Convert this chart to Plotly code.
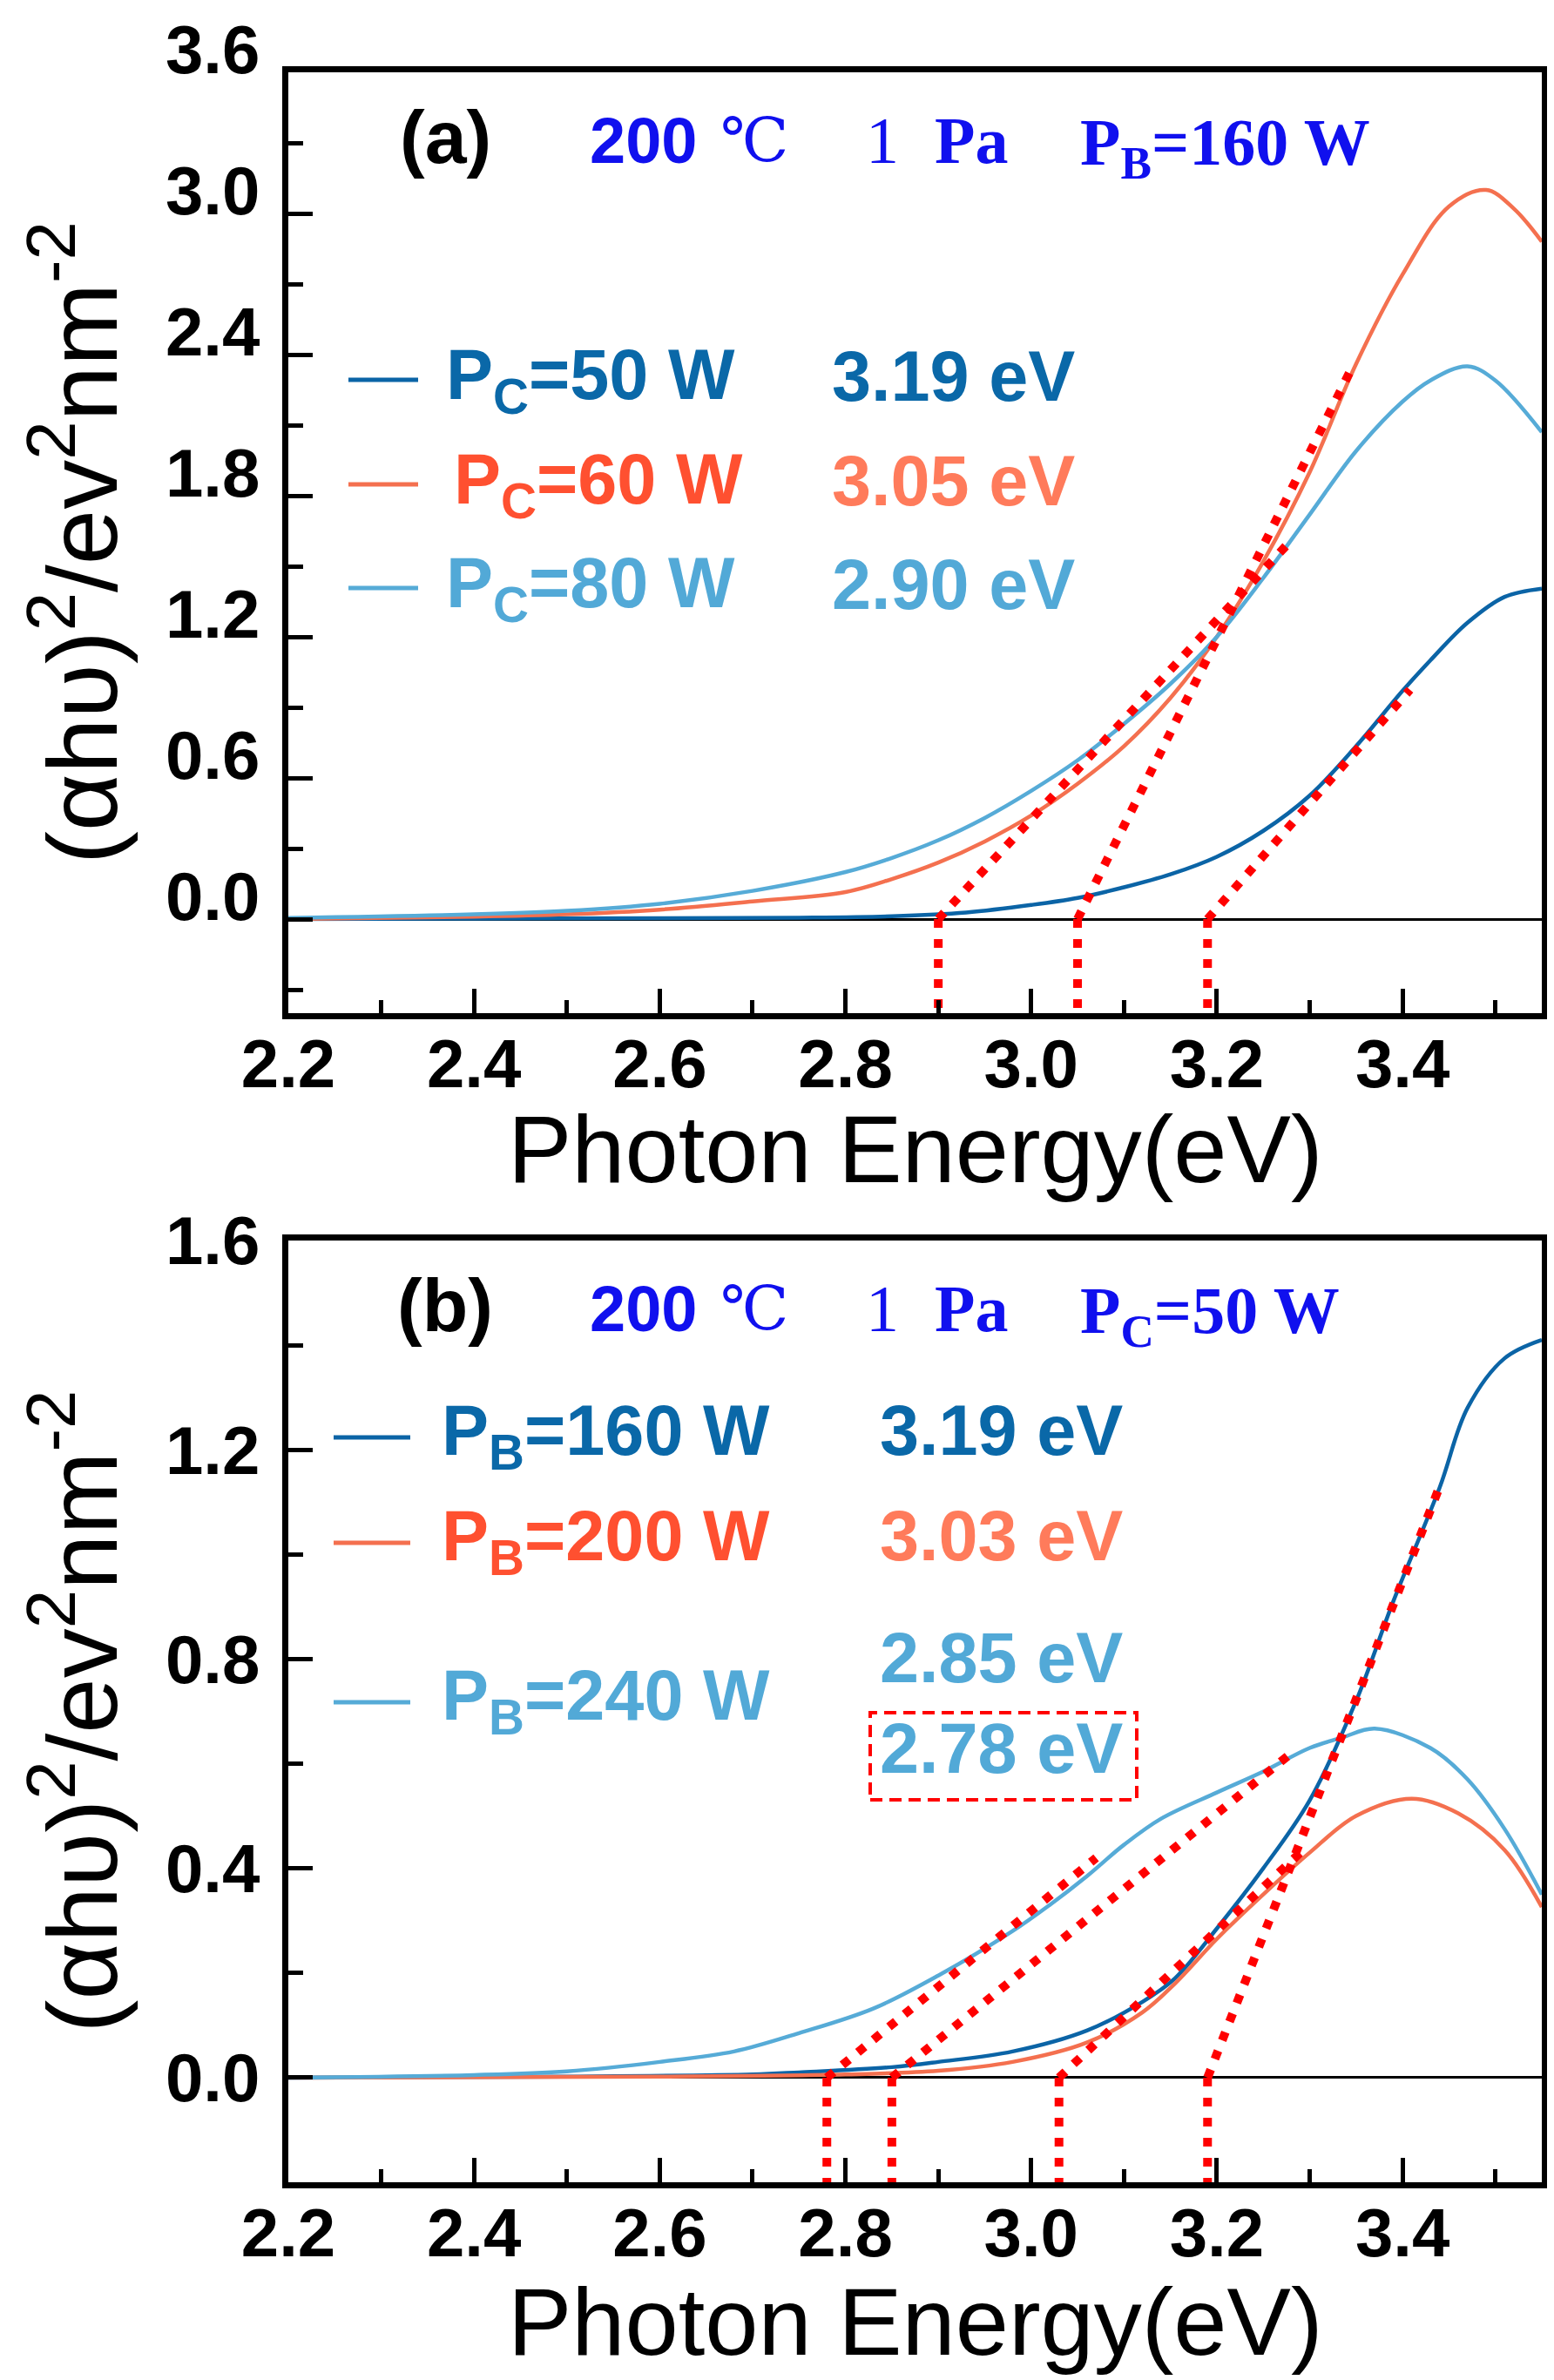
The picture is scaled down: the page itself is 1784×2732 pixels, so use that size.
import plotly.graph_objects as go

# ------------------------------------------------------------------ data
# Panel (a): 200 C, 1 Pa, P_B = 160 W, varying P_C
E_a_c50 = [2.20, 2.40, 2.60, 2.75, 2.85, 2.93, 3.00, 3.05, 3.10, 3.15, 3.20, 3.25, 3.30, 3.35, 3.40, 3.43, 3.47, 3.51, 3.55]
Y_a_c50 = [0.000, 0.002, 0.004, 0.006, 0.012, 0.028, 0.060, 0.090, 0.135, 0.190, 0.265, 0.375, 0.525, 0.735, 0.970, 1.100, 1.260, 1.370, 1.405]

E_a_c60 = [2.20, 2.40, 2.50, 2.60, 2.70, 2.80, 2.85, 2.90, 2.95, 3.00, 3.05, 3.10, 3.15, 3.20, 3.25, 3.30, 3.35, 3.40, 3.45, 3.49, 3.52, 3.55]
Y_a_c60 = [0.000, 0.010, 0.020, 0.040, 0.075, 0.115, 0.170, 0.240, 0.330, 0.440, 0.575, 0.735, 0.940, 1.200, 1.520, 1.900, 2.360, 2.740, 3.030, 3.100, 3.020, 2.880]

E_a_c80 = [2.20, 2.40, 2.50, 2.60, 2.70, 2.80, 2.85, 2.90, 2.95, 3.00, 3.05, 3.10, 3.15, 3.20, 3.25, 3.30, 3.35, 3.40, 3.43, 3.47, 3.50, 3.55]
Y_a_c80 = [0.005, 0.020, 0.035, 0.065, 0.120, 0.200, 0.260, 0.335, 0.430, 0.545, 0.675, 0.830, 1.000, 1.200, 1.450, 1.720, 1.990, 2.200, 2.290, 2.350, 2.290, 2.070]

# Panel (b): 200 C, 1 Pa, P_C = 50 W, varying P_B
E_b_b160 = [2.20, 2.50, 2.70, 2.75, 2.85, 2.90, 2.98, 3.06, 3.12, 3.155, 3.20, 3.25, 3.30, 3.35, 3.39, 3.44, 3.47, 3.51, 3.55]
Y_b_b160 = [0.000, 0.002, 0.006, 0.010, 0.020, 0.030, 0.050, 0.090, 0.145, 0.190, 0.285, 0.400, 0.530, 0.720, 0.910, 1.128, 1.280, 1.375, 1.410]

E_b_b200 = [2.20, 2.60, 2.80, 2.90, 2.98, 3.06, 3.12, 3.155, 3.20, 3.25, 3.30, 3.35, 3.41, 3.46, 3.51, 3.55]
Y_b_b200 = [0.000, 0.002, 0.006, 0.013, 0.030, 0.067, 0.125, 0.180, 0.265, 0.350, 0.430, 0.500, 0.533, 0.505, 0.435, 0.326]

E_b_b240 = [2.20, 2.40, 2.50, 2.60, 2.68, 2.75, 2.83, 2.90, 2.98, 3.02, 3.06, 3.10, 3.14, 3.20, 3.25, 3.30, 3.335, 3.37, 3.43, 3.47, 3.51, 3.55]
Y_b_b240 = [0.000, 0.005, 0.012, 0.030, 0.050, 0.085, 0.132, 0.195, 0.280, 0.330, 0.385, 0.445, 0.495, 0.545, 0.585, 0.630, 0.650, 0.667, 0.630, 0.570, 0.475, 0.350]

# Tauc extrapolation lines: band gap, end energy, end value
gap_a = [2.90, 3.05, 3.19]
tan_a_end_E = [3.28, 3.345, 3.408]
tan_a_end_Y = [1.61, 2.34, 0.975]

gap_b = [2.78, 2.85, 3.03, 3.19]
tan_b_end_E = [3.07, 3.28, 3.29, 3.44]
tan_b_end_Y = [0.42, 0.62, 0.43, 1.13]

# Labels
labels_a = ["P<sub>C</sub>=50 W", "P<sub>C</sub>=60 W", "P<sub>C</sub>=80 W"]
gaps_a_txt = ["3.19 eV", "3.05 eV", "2.90 eV"]
labels_b = ["P<sub>B</sub>=160 W", "P<sub>B</sub>=200 W", "P<sub>B</sub>=240 W"]
gaps_b_txt = ["3.19 eV", "3.03 eV", "2.85 eV", "2.78 eV"]
x_title = "Photon Energy(eV)"
y_title = "(αhυ)<sup>2</sup>/ev<sup>2</sup>nm<sup>-2</sup>"

x_range = [2.2, 3.55]
y_range_a = [-0.4, 3.6]
y_range_b = [-0.2, 1.6]

# ------------------------------------------------------------------ style
DARK = "#0b64a6"
ORANGE = "#f4704f"
LIGHT = "#56abd7"
DARK_T = "#0a68a8"
ORANGE_T1 = "#ff5030"
ORANGE_T2 = "#ff7b5b"
LIGHT_T = "#52a9d7"
BLUE = "#1010ee"
RED = "#ff0000"

W, H = 1784, 2732
L, R, T, B = 323, 22, 75, 235
PW, PH = W - L - R, H - T - B

SANS = "Arial, Liberation Sans, sans-serif"
SERIF = "Times New Roman, Liberation Serif, DejaVu Serif, Noto Sans CJK SC, serif"


def px(xp):
    return (xp - L) / PW


def py(yp):
    return (H - B - yp) / PH


fig = go.Figure()

curve_sets = [
    ("x", "y", [(E_a_c50, Y_a_c50, DARK), (E_a_c60, Y_a_c60, ORANGE), (E_a_c80, Y_a_c80, LIGHT)]),
    ("x2", "y2", [(E_b_b160, Y_b_b160, DARK), (E_b_b200, Y_b_b200, ORANGE), (E_b_b240, Y_b_b240, LIGHT)]),
]
for xa, ya, curves in curve_sets:
    for ex, ey, col in curves:
        fig.add_trace(go.Scatter(x=ex, y=ey, mode="lines", xaxis=xa, yaxis=ya,
                                 line=dict(color=col, width=4.5, shape="spline", smoothing=1.0),
                                 showlegend=False, hoverinfo="skip"))

DOT = dict(color=RED, width=10, dash="10px,13px")
for xa, ya, gaps, ee, ey, yr in [("x", "y", gap_a, tan_a_end_E, tan_a_end_Y, y_range_a),
                                  ("x2", "y2", gap_b, tan_b_end_E, tan_b_end_Y, y_range_b)]:
    for g, e1, v1 in zip(gaps, ee, ey):
        fig.add_trace(go.Scatter(x=[g, e1], y=[0, v1], mode="lines", xaxis=xa, yaxis=ya,
                                 line=DOT, showlegend=False, hoverinfo="skip"))
        fig.add_trace(go.Scatter(x=[g, g], y=[0, yr[0]], mode="lines", xaxis=xa, yaxis=ya,
                                 line=DOT, showlegend=False, hoverinfo="skip"))

axis_common = dict(showline=True, linecolor="black", linewidth=7, mirror=True,
                   ticks="inside", ticklen=28, tickwidth=5, tickcolor="black",
                   showgrid=False, tickformat=".1f", automargin=False,
                   ticklabeloverflow="allow",
                   tickfont=dict(family=SANS, size=78, color="black", weight="bold"))

dom_a = [py(1155), 1.0]
dom_b = [0.0, py(1416)]

yt = dict(text=y_title, font=dict(family=SANS, size=114, color="black"), standoff=20)

xminor = dict(dtick=0.1, ticks="inside", ticklen=15, tickwidth=5, tickcolor="black")

fig.update_layout(
    template="none",
    width=W, height=H, margin=dict(l=L, r=R, t=T, b=B, autoexpand=False),
    paper_bgcolor="white", plot_bgcolor="white", showlegend=False,
    xaxis=dict(axis_common, range=x_range, dtick=0.2, tick0=2.2, anchor="y", domain=[0, 1],
               minor=xminor, zeroline=False, ticklabelstandoff=-16),
    yaxis=dict(axis_common, range=y_range_a, dtick=0.6, tick0=0, anchor="x", domain=dom_a,
               minor=dict(dtick=0.3, ticks="inside", ticklen=17, tickwidth=5, tickcolor="black"),
               zeroline=True, zerolinecolor="black", zerolinewidth=3,
               title=yt, ticklabelshift=-26, ticklabelstandoff=10),
    xaxis2=dict(axis_common, range=x_range, dtick=0.2, tick0=2.2, anchor="y2", domain=[0, 1],
                minor=xminor, zeroline=False, ticklabelstandoff=-16),
    yaxis2=dict(axis_common, range=y_range_b, dtick=0.4, tick0=0, anchor="x2", domain=dom_b,
                minor=dict(dtick=0.2, ticks="inside", ticklen=17, tickwidth=5, tickcolor="black"),
                zeroline=True, zerolinecolor="black", zerolinewidth=3,
                title=yt, ticklabelstandoff=10),
)

ann = []
shapes = []


def text(x, y, s, color, size, family=SANS, bold=True, xanchor="left"):
    ann.append(dict(x=px(x), y=py(y), xref="paper", yref="paper", text=s, showarrow=False,
                    xanchor=xanchor, yanchor="middle",
                    font=dict(family=family, size=size, color=color,
                              weight="bold" if bold else "normal")))


# x-axis titles
text(1043, 1310, x_title, "black", 110, bold=False, xanchor="center")
text(1043, 2656, x_title, "black", 110, bold=False, xanchor="center")

# headers
for dy, tag, pw in [(0, "(a)", "P<sub>B</sub>=160 W"), (1341, "(b)", "P<sub>C</sub>=50 W")]:
    text(503, 149 + dy, tag, "black", 86, xanchor="center")
    text(730, 153 + dy, "200", BLUE, 74, xanchor="center")
    text(858, 153 + dy, "℃", BLUE, 70, family=SERIF, bold=False, xanchor="center")
    text(1005, 153 + dy, "1", BLUE, 76, family=SERIF, bold=False, xanchor="center")
    text(1107, 153 + dy, "Pa", BLUE, 76, family=SERIF, xanchor="center")
    text(1230, 161 + dy, pw, BLUE, 76, family=SERIF)

# legend (a)
cols_a = [(DARK, DARK_T, DARK_T), (ORANGE, ORANGE_T1, ORANGE_T2), (LIGHT, LIGHT_T, LIGHT_T)]
rows_a = [428, 548, 667]
lx_a = [502, 511, 502]
for lab, gt, (lc, tc1, tc2), yy, x0 in zip(labels_a, gaps_a_txt, cols_a, rows_a, lx_a):
    shapes.append(dict(type="line", xref="paper", yref="paper", x0=px(392), x1=px(472),
                       y0=py(yy), y1=py(yy), line=dict(color=lc, width=5)))
    text(x0, yy, lab, tc1, 81)
    text(945, yy - 4, gt, tc2, 81)

# legend (b)
cols_b = [(DARK, DARK_T, DARK_T), (ORANGE, ORANGE_T1, ORANGE_T2), (LIGHT, LIGHT_T, LIGHT_T)]
rows_b = [1642, 1763, 1946]
for lab, (lc, tc1, tc2), yy in zip(labels_b, cols_b, rows_b):
    shapes.append(dict(type="line", xref="paper", yref="paper", x0=px(375), x1=px(463),
                       y0=py(yy), y1=py(yy), line=dict(color=lc, width=5)))
    text(497, yy - 2, lab, tc1, 81)
gap_rows_b = [1642, 1763, 1903, 2007]
gap_cols_b = [DARK_T, ORANGE_T2, LIGHT_T, LIGHT_T]
for gt, yy, c in zip(gaps_b_txt, gap_rows_b, gap_cols_b):
    text(1000, yy - 8, gt, c, 81)

shapes.append(dict(type="rect", xref="paper", yref="paper", x0=px(991), x1=px(1297),
                   y0=py(2058), y1=py(1958), line=dict(color=RED, width=4, dash="14px,8px")))

fig.update_layout(annotations=ann, shapes=shapes)
fig.write_html("out.html")
